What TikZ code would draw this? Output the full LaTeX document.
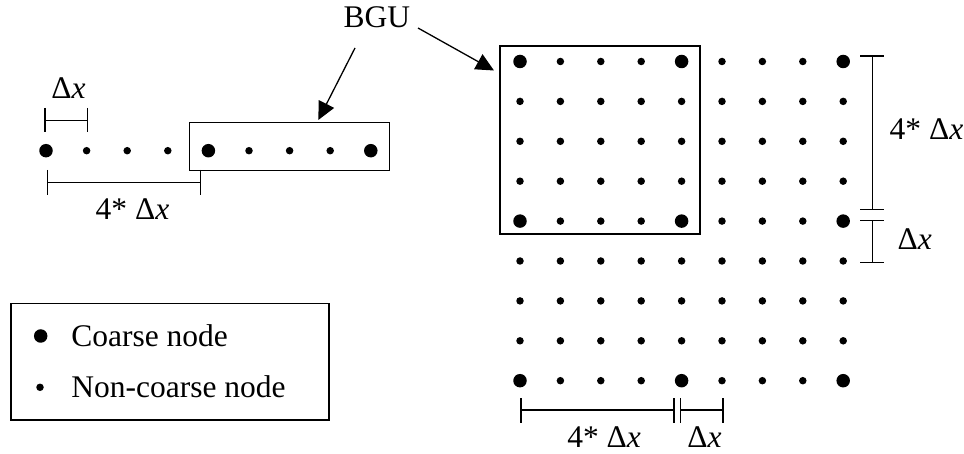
\documentclass[tikz,border=0pt]{standalone}
\usepackage{fontspec}
\setmainfont{Liberation Serif}
\usetikzlibrary{arrows.meta}
\begin{document}
\begin{tikzpicture}[x=1pt,y=-1pt,line width=1.3pt,
  coarse/.style={circle,fill=black,inner sep=0pt,minimum size=13.5pt},
  fine/.style={circle,fill=black,inner sep=0pt,minimum size=7.5pt},
  lbl/.style={anchor=base west,inner sep=0pt,font=\fontsize{31.5}{36}\selectfont},
  framebox/.style={draw,line width=1.3pt,inner sep=0pt,rectangle},
  pointer/.style={-{Triangle[length=18pt,width=17pt]},line width=1.3pt},
  dim/.style={line width=1.5pt}]
\useasboundingbox (0,0) rectangle (964,454);

% main grid
\foreach \i in {0,...,8}{
  \foreach \j in {0,...,8}{
    \pgfmathtruncatemacro\c{(mod(\i,4)==0)&&(mod(\j,4)==0)}
    \ifnum\c=1
      \node[coarse] (g-\i-\j) at ({520+40.4*\i},{61.5+39.9*\j}) {};
    \else
      \node[fine] (g-\i-\j) at ({520+40.4*\i},{61.5+39.9*\j}) {};
    \fi
  }
}

% left 1D row
\foreach \i in {0,...,8}{
  \pgfmathtruncatemacro\c{mod(\i,4)==0}
  \ifnum\c=1
    \node[coarse] (r-\i) at ({46+40.6*\i},150.7) {};
  \else
    \node[fine] (r-\i) at ({46+40.6*\i},150.7) {};
  \fi
}

% BGU boxes
\node[framebox,minimum width=200pt,minimum height=48pt] (box1) at (289.3,146.7) {};
\node[framebox,minimum width=200pt,minimum height=188pt] (box2) at (600,140) {};

% BGU label and pointers
\node[lbl] (bgu) at (343,27.3) {BGU};
\coordinate (p1s) at (355,48);
\coordinate (p1e) at (318.3,120);
\coordinate (p2s) at (418,28);
\coordinate (p2e) at (494,70.5);
\draw[pointer] (p1s) -- (p1e);
\draw[pointer] (p2s) -- (p2e);

% left dimensions
\draw[dim] (45,108) -- (45,132) (45,120.7) -- (87.3,120.7) (87.3,108) -- (87.3,132);
\node[lbl] (ldx) at (50.7,99) {Δ\textit{x}};
\draw[dim] (47.3,170) -- (47.3,195) (47.3,182.7) -- (200.7,182.7) (200.7,170) -- (200.7,195);
\node[lbl] (l4dx) at (95,220) {4* Δ\textit{x}};

% right dimensions
\draw[dim] (860,56) -- (884,56) (872.3,56) -- (872.3,209.3) (860,209.3) -- (884,209.3);
\node[lbl] (r4dx) at (889,140) {4* Δ\textit{x}};
\draw[dim] (860,220.7) -- (884,220.7) (872.3,220.7) -- (872.3,262.7) (860,262.7) -- (884,262.7);
\node[lbl] (rdx) at (897,250) {Δ\textit{x}};

% bottom dimensions
\draw[dim] (521,398) -- (521,423) (521,410) -- (674,410) (674,398) -- (674,423);
\node[lbl] (b4dx) at (566.7,447) {4* Δ\textit{x}};
\draw[dim] (680.7,398) -- (680.7,423) (680.7,410) -- (723,410) (723,398) -- (723,423);
\node[lbl] (bdx) at (686.7,447) {Δ\textit{x}};

% legend
\node[framebox,minimum width=318pt,minimum height=116.7pt] (legend) at (170,361.7) {};
\node[coarse] (lc) at (40.7,336) {};
\node[fine] (lf) at (40,387.3) {};
\node[lbl] (lct) at (70.7,346.7) {Coarse node};
\node[lbl] (lft) at (70.7,397.7) {Non-coarse node};
\end{tikzpicture}
\end{document}
